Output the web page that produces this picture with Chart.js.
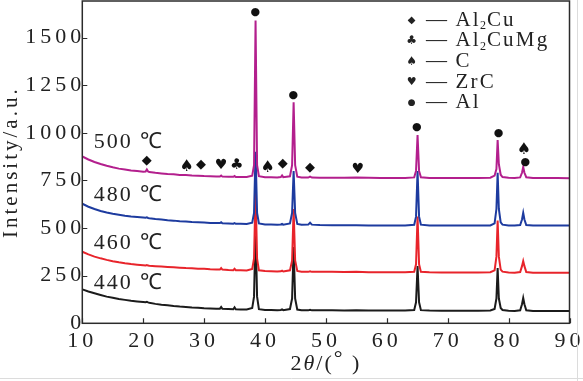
<!DOCTYPE html>
<html><head><meta charset="utf-8">
<script src="https://cdn.jsdelivr.net/npm/chart.js@4/dist/chart.umd.min.js"></script>
<style>html,body{margin:0;padding:0;background:#fff;overflow:hidden}#wrap{width:583px;height:381px;position:relative}</style>
</head><body><div id="wrap"><canvas id="c" width="583" height="381"></canvas></div>
<script>
const twoTheta = [10,11,12,13,14,15,16,17,18,19,
20,20.4,20.6,20.8,21,22,23,24,25,26,
27,28,29,30,31,32,32.6,32.8,33,34,
34.8,35,35.2,36,37,37.9,38.2,38.45,38.7,39,
40,41,42,42.6,42.8,43,44.1,44.45,44.7,44.95,
45.3,46,47.1,47.4,47.7,49,51,53,55,57,
59,61,63,64.5,64.8,65.05,65.3,65.6,67,69,
71,73,75,77,77.7,78.0,78.2,78.4,78.7,79,
80,81,81.9,82.2,82.4,82.6,82.9,84,86,88,90];

const i500 = [876,860,847,836,827,819,812,807,802,799,
796,797,808,797,794,790,787,784,782,779,
778,776,775,773,772,771,771,776,770,769,
769,773,768,768,768,775,830,1590,830,772,
767,767,766,768,776,767,772,830,1160,830,
770,766,765,770,765,764,764,764,765,764,
763,763,763,766,800,988,800,767,763,763,
763,763,763,764,775,810,962,835,780,768,
764,763,766,790,820,790,767,763,763,763,762];

const i480 = [628,612,600,590,582,575,570,565,561,558,
555,554,556,553,552,548,545,541,539,536,
534,532,531,529,527,526,526,530,525,524,
523,526,522,522,521,528,580,900,580,524,
519,519,518,519,522,518,524,580,800,580,
522,517,518,528,518,516,515,515,515,514,
514,514,514,517,560,800,560,518,514,514,
514,514,514,514,525,600,790,600,530,518,
514,513,516,545,580,545,516,513,513,513,513];

const i460 = [376,362,350,341,333,326,320,315,311,308,
305,304,306,303,302,300,298,296,294,292,
290,289,287,286,284,283,282,290,282,280,
279,286,279,278,277,285,340,700,340,278,
274,273,272,273,276,272,278,330,600,330,
275,271,270,273,270,270,270,269,270,268,
268,268,268,271,310,560,310,270,268,267,
267,267,267,268,278,350,540,350,282,271,
267,266,269,300,327,300,269,266,266,266,266];

const i440 = [178,167,158,149,140,134,128,123,118,115,
112,111,113,110,108,102,98,95,91,88,
86,83,81,79,78,77,77,86,76,75,
74,84,74,73,72,80,140,500,140,74,
70,70,69,70,73,69,75,130,400,130,
72,68,68,71,68,68,68,67,68,67,
67,67,67,70,110,300,110,69,67,66,
66,66,66,67,75,130,290,130,80,70,
66,65,68,100,133,100,68,65,65,65,65];

const tempLabels = ['500 ℃','480 ℃','460 ℃','440 ℃'];
const tempLabelX = [11.9,11.9,11.9,11.9];
const tempLabelY = [952,673,421,212];

const markerSymbols = ['◆','♠','◆','♥','♣','●','♠','◆','●','◆','♥','●','●','♠','●'];
const markerX = [20.57,27.14,29.49,32.77,35.35,38.41,40.44,42.9,44.65,47.39,55.22,64.91,78.37,82.53,82.74];
const markerY = [852,822,831,831,831,1632,817,836,1198,817,808,1032,1000,913,845];

const legendSymbols = ['◆','♣','♠','♥','●'];
const legendNames = [['Al','2','Cu'],['Al','2','CuMg'],['C','',''],['ZrC','',''],['Al','','']];

const xTicks = [10,20,30,40,50,60,70,80,90];
const yTicks = [0,250,500,750,1000,1250,1500];

const colors = ['#b31f8d','#1d3b9f','#e8242b','#1b1b1b'];
const seriesY = [i500,i480,i460,i440];

const SERIF = '"Liberation Serif", "Times New Roman", serif';
const glyphSize = {'◆': 13, '♠': 16, '♣': 15, '♥': 14, '●': 11};
const legendGlyphSize = {'◆': 10, '♠': 12, '♣': 12, '♥': 11, '●': 9};

const datasets = seriesY.map((arr, k) => ({
  label: tempLabels[k],
  data: twoTheta.map((t, i) => ({x: t, y: arr[i]})),
  borderColor: colors[k],
  borderWidth: 2,
  pointRadius: 0,
  tension: 0,
  fill: false
}));

const decor = {
  id: 'decor',
  beforeDraw(chart) { chart.ctx.letterSpacing = '4px'; },
  afterDraw(chart) {
    const {ctx, chartArea: a, scales: {x, y}} = chart;
    ctx.save();
    ctx.letterSpacing = '0px';
    // faint scan edges of the original figure
    ctx.strokeStyle = '#dcdcdc';
    ctx.lineWidth = 1;
    ctx.beginPath();
    ctx.moveTo(577.5, 0); ctx.lineTo(577.5, 381);
    ctx.moveTo(0, 378.5); ctx.lineTo(583, 378.5);
    ctx.stroke();
    // frame
    ctx.strokeStyle = '#2b2b2b';
    ctx.lineWidth = 1.5;
    ctx.strokeRect(a.left, a.top, a.right - a.left, a.bottom - a.top);
    // inner tick marks
    ctx.lineWidth = 1.2;
    ctx.beginPath();
    y.ticks.forEach(t => { const py = Math.round(y.getPixelForValue(t.value)) + 0.5; ctx.moveTo(a.left, py); ctx.lineTo(a.left + 5, py); });
    x.ticks.forEach(t => { const px = Math.round(x.getPixelForValue(t.value)) + 0.5; ctx.moveTo(px, a.bottom); ctx.lineTo(px, a.bottom - 5); });
    ctx.stroke();

    ctx.fillStyle = '#222';
    // temperature labels
    ctx.font = '22px ' + SERIF;
    ctx.textAlign = 'left';
    ctx.textBaseline = 'middle';
    ctx.letterSpacing = '2px';
    tempLabels.forEach((s, k) => ctx.fillText(s, x.getPixelForValue(tempLabelX[k]), y.getPixelForValue(tempLabelY[k])));

    // phase markers
    ctx.letterSpacing = '0px';
    ctx.textAlign = 'center';
    ctx.fillStyle = '#111';
    markerSymbols.forEach((s, k) => {
      ctx.font = glyphSize[s] + 'px "DejaVu Sans"';
      ctx.fillText(s, x.getPixelForValue(markerX[k]), y.getPixelForValue(markerY[k]));
    });

    // legend
    ctx.fillStyle = '#222';
    const gx = 411.7, dx = 426, tx = 455.5, row0 = 20, pitch = 20.7;
    legendSymbols.forEach((s, k) => {
      const cy = row0 + k * pitch;
      ctx.letterSpacing = '0px';
      ctx.textAlign = 'center';
      ctx.textBaseline = 'middle';
      ctx.font = legendGlyphSize[s] + 'px "DejaVu Sans"';
      ctx.fillText(s, gx, cy);
      ctx.textAlign = 'left';
      ctx.font = '21px ' + SERIF;
      ctx.fillText('—', dx, cy);
      ctx.letterSpacing = '2.2px';
      const [a1, sub, a2] = legendNames[k];
      let px = tx;
      ctx.fillText(a1, px, cy);
      px += ctx.measureText(a1).width - 1;
      if (sub) {
        ctx.letterSpacing = '0px';
        ctx.font = '12px ' + SERIF;
        ctx.fillText(sub, px, cy + 6);
        px += ctx.measureText(sub).width + 1;
        ctx.font = '21px ' + SERIF;
        ctx.letterSpacing = '2.2px';
      }
      if (a2) ctx.fillText(a2, px, cy);
    });

    // y axis title
    ctx.save();
    ctx.translate(11, (a.top + a.bottom) / 2);
    ctx.rotate(-Math.PI / 2);
    ctx.font = '21px ' + SERIF;
    ctx.letterSpacing = '3px';
    ctx.textAlign = 'center';
    ctx.textBaseline = 'middle';
    ctx.fillText('Intensity/a.u.', 0, 0);
    ctx.restore();

    // x axis title 2θ/(°)
    ctx.letterSpacing = '2px';
    ctx.textBaseline = 'middle';
    ctx.textAlign = 'left';
    const parts = [['2', ''], ['θ', 'italic '], ['/(', ''], ['°', ''], [' )', '']];
    let total = 0;
    parts.forEach(([s, st]) => { ctx.font = st + '22px ' + SERIF; total += ctx.measureText(s).width; });
    let cx = (a.left + a.right) / 2 - total / 2;
    const ty = 364;
    parts.forEach(([s, st]) => {
      ctx.font = st + '22px ' + SERIF;
      ctx.fillText(s, cx, s === '°' ? ty - 5 : ty);
      cx += ctx.measureText(s).width;
    });
    ctx.restore();
  }
};

new Chart(document.getElementById('c'), {
  type: 'line',
  data: { datasets },
  options: {
    responsive: false,
    animation: false,
    devicePixelRatio: 1,
    layout: { padding: { top: 1, right: 13.5, left: 0, bottom: 0 } },
    plugins: { legend: { display: false }, tooltip: { enabled: false } },
    scales: {
      x: {
        type: 'linear', min: 10, max: 90,
        afterBuildTicks: s => { s.ticks = xTicks.map(v => ({ value: v })); },
        afterFit: s => { s.height = 57.7; s.paddingLeft = 0; s.paddingRight = 0; },
        grid: { display: false, drawTicks: false },
        border: { display: false },
        ticks: { font: { family: SERIF, size: 22 }, color: '#222', padding: 5, maxRotation: 0, autoSkip: false, callback: v => String(v) }
      },
      y: {
        type: 'linear', min: 0, max: 1692,
        afterBuildTicks: s => { s.ticks = yTicks.map(v => ({ value: v })); },
        afterFit: s => { s.width = 82.3; s.paddingTop = 0; s.paddingBottom = 0; },
        grid: { display: false, drawTicks: false },
        border: { display: false },
        ticks: { font: { family: SERIF, size: 22 }, color: '#222', padding: -3, autoSkip: false, callback: v => String(v) }
      }
    }
  },
  plugins: [decor]
});
</script>
</body></html>
